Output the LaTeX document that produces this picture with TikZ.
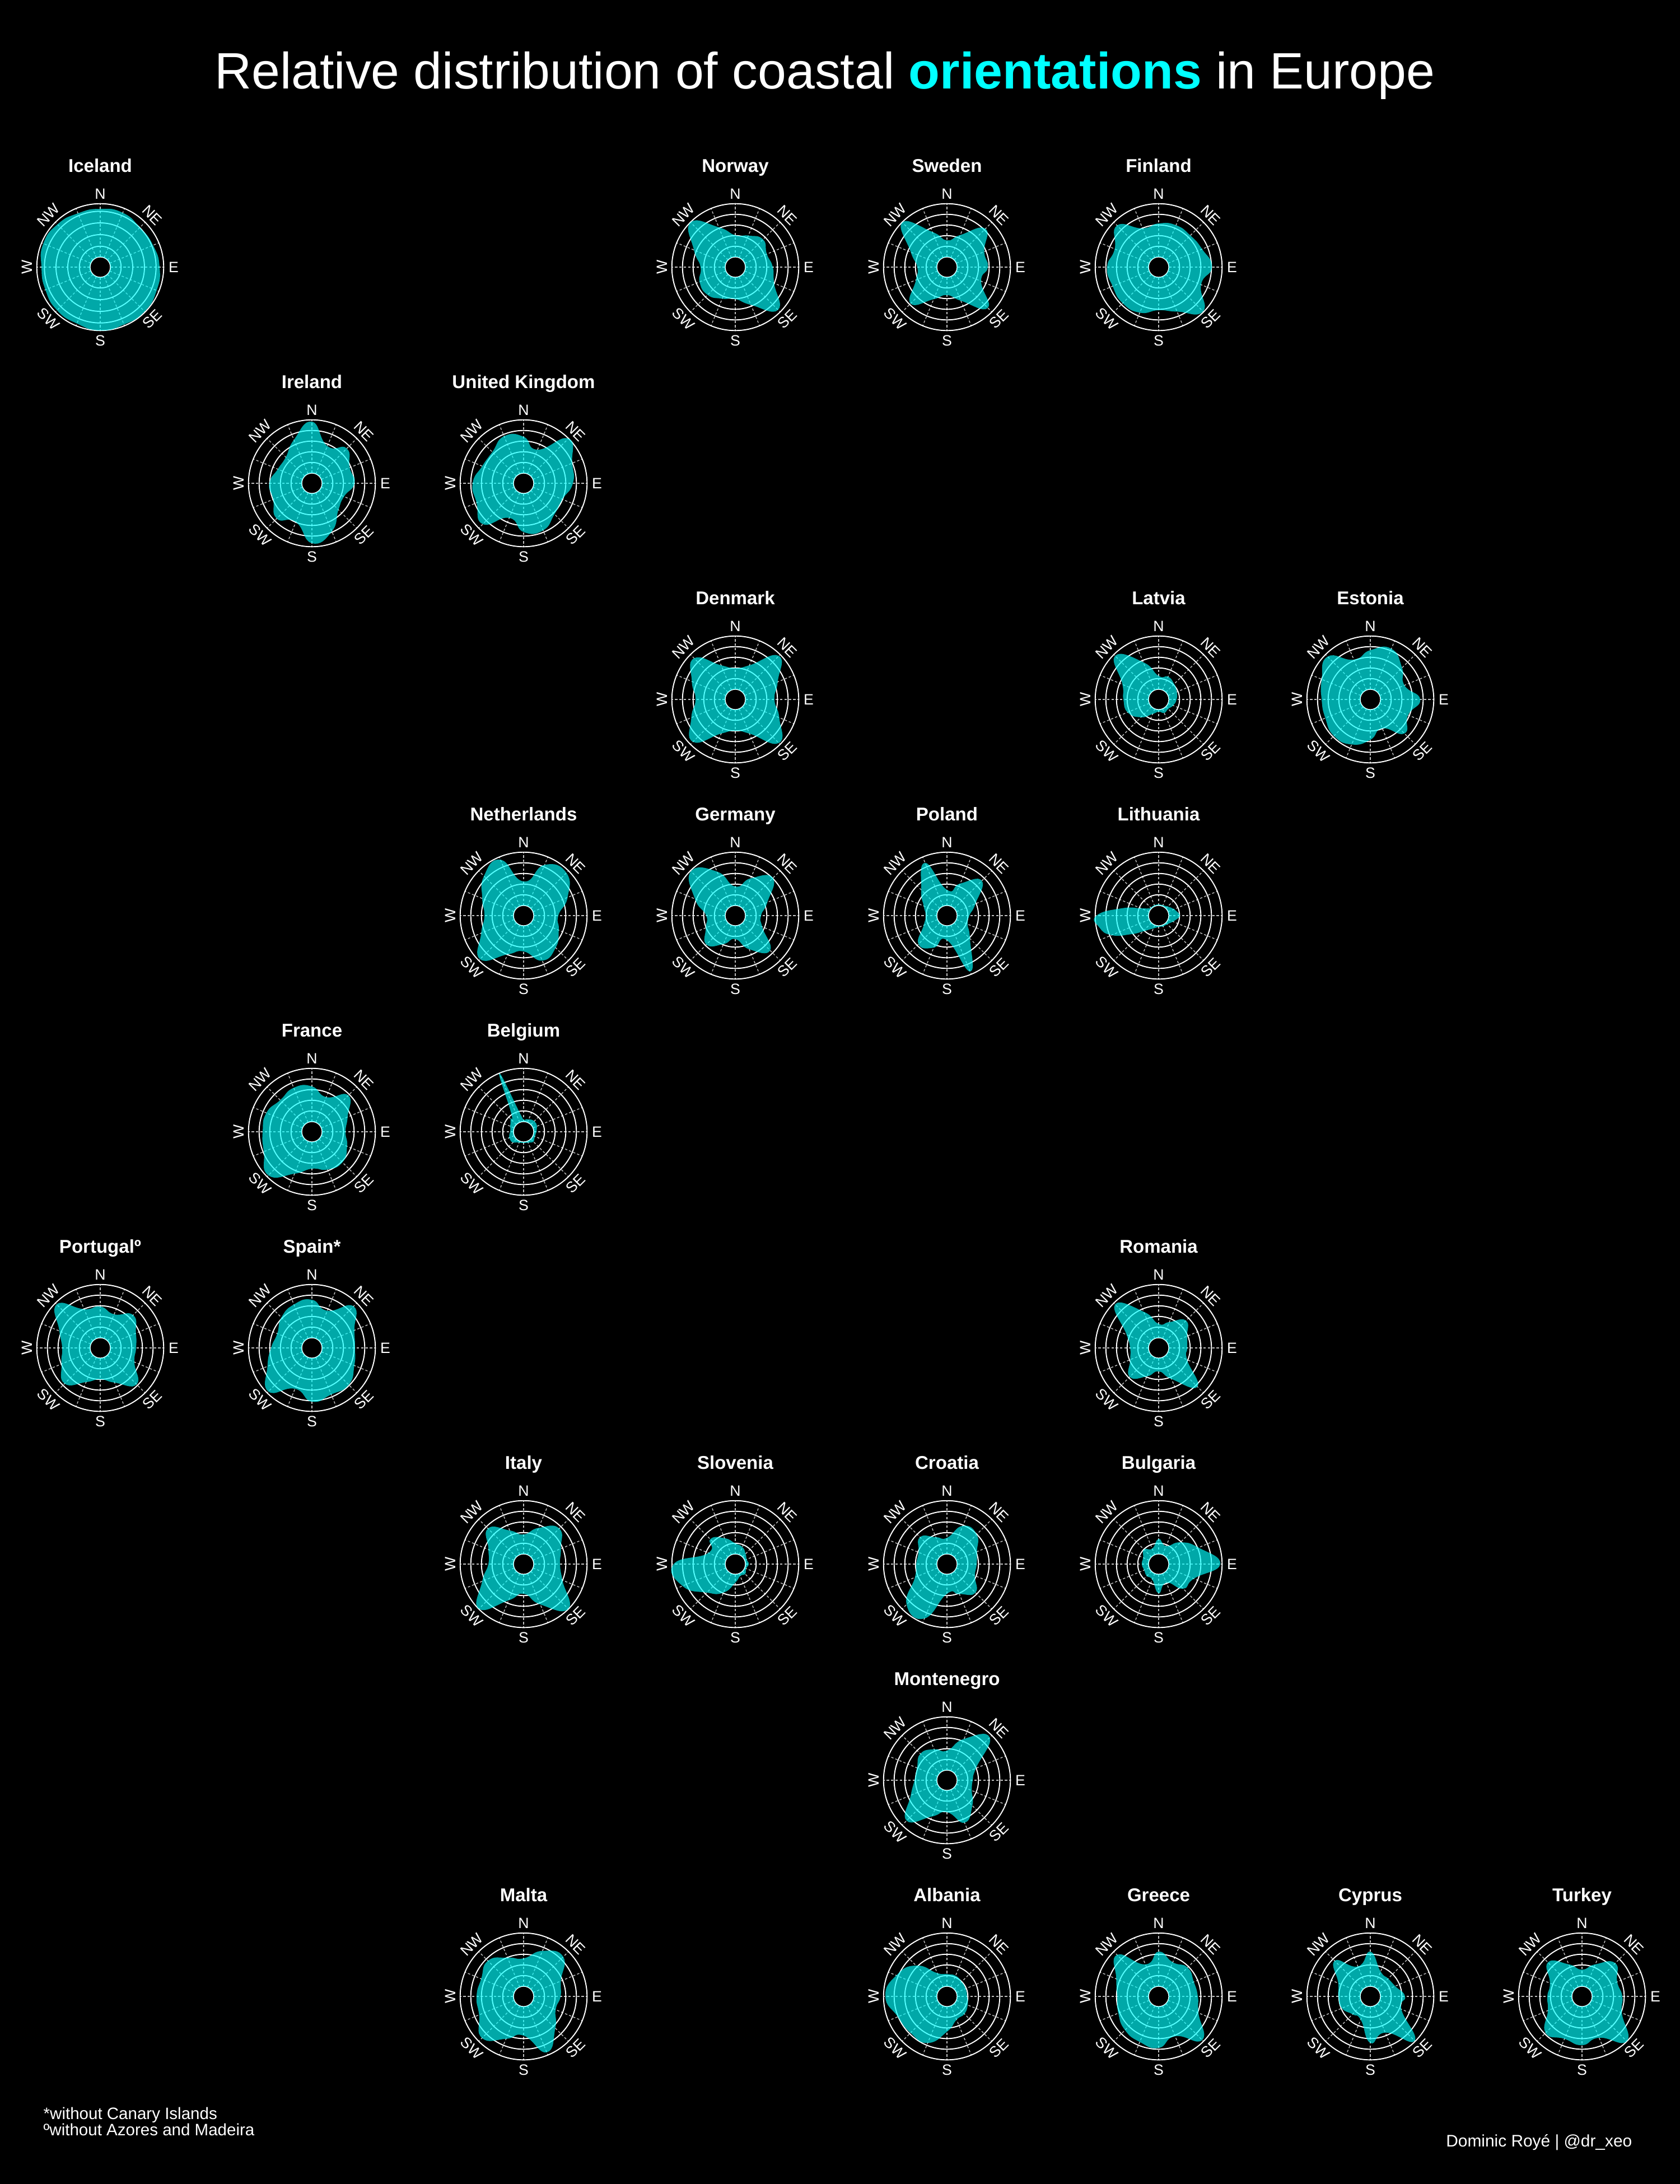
\documentclass[tikz,border=0pt]{standalone}
\usepackage{fontspec}
\setmainfont{Liberation Sans}
\definecolor{aqua}{RGB}{0,255,255}
\tikzset{
  spoke/.style={gray!50!white, line width=0.4pt, dash pattern=on 1.2pt off 1pt},
  ring/.style={white, line width=0.55pt},
  rosefill/.style={fill=aqua, fill opacity=0.66},
  dirlbl/.style={white, inner sep=0, font=\fontsize{7.6}{9}\selectfont},
  ctitle/.style={white, anchor=base, inner sep=0, font=\bfseries\fontsize{9.4}{11}\selectfont},
  note/.style={white, anchor=base west, inner sep=0, font=\fontsize{8.4}{10}\selectfont}
}
\newcommand\rhole{0.183}
\newcommand\router{1.133}
% #1 rings, #2 id, #3 column, #4 row, #5 title, #6 radii from N clockwise (evenly spaced)
\newcommand\rose[6][0.373,0.563,0.753,0.943]{%
\begin{scope}[shift={({1.79+3.78*#3},{-4.77-3.86*#4})}]
  \foreach \ang in {0,22.5,...,337.5} \draw[spoke] (\ang:\rhole) -- (\ang:\router);
  \foreach \rr in {#1} \draw[ring] (0,0) circle (\rr);
  \draw[ring] (0,0) circle (\rhole) (0,0) circle (\router);
  \foreach \rr [count=\nn] in {#6} {\xdef\npts{\nn}}
  \gdef\ptlist{}
  \foreach \rr [count=\kk from 0] in {#6} {
    \coordinate (#2-\kk) at ({90-360/\npts*\kk}:\rr);
    \xdef\ptlist{\ptlist (#2-\kk)}}
  \edef\rosepath{\noexpand\fill[rosefill, even odd rule] plot[smooth cycle, tension=0.9]
    coordinates {\ptlist} (0,0) circle (\rhole);}
  \rosepath
  \foreach \ang/\txt/\rot in {90/N/0,45/NE/-45,0/E/0,-45/SE/45,-90/S/0,-135/SW/-45,180/W/90,135/NW/45}
    \node[dirlbl, rotate=\rot] (#2-\txt) at (\ang:1.31) {\txt};
  \node[ctitle] (#2-title) at (0,1.70) {#5};
\end{scope}}

\begin{document}
\begin{tikzpicture}
\fill[black] (0,0) rectangle (30,-39);
\node[white, anchor=base, inner sep=0, font=\fontsize{26}{30}\selectfont] (title) at (14.73,-1.59)
  {Relative distribution of coastal \textcolor{aqua}{\bfseries orientations} in Europe};

% row 0
\rose[0.373,0.58,0.79,0.997]{ice}{0}{0}{Iceland}{1.04,1.05,1.00,1.02,1.06,1.09,1.12,1.11,1.13,1.09,1.09,1.06,1.05,1.10,1.08,1.04}
\rose{nor}{3}{0}{Norway}{.57,.61,.70,.61,.67,.75,1.08,.73,.57,.61,.70,.69,.62,.80,1.13,.77}
\rose{swe}{4}{0}{Sweden}{.48,.62,.97,.72,.73,.66,1.03,.65,.50,.62,.92,.60,.53,.70,1.13,.68}
\rose{fin}{5}{0}{Finland}{.78,.81,.80,.84,.95,.82,1.12,.86,.77,.88,.91,.89,.92,.85,1.05,.75}
% row 1
\rose{irl}{1}{1}{Ireland}{1.10,.72,.88,.73,.76,.62,.67,.93,1.07,.75,.89,.75,.76,.66,.66,.84}
\rose{gbr}{2}{1}{United Kingdom}{.83,.65,1.13,.94,.88,.75,.78,.91,.87,.67,1.03,.91,.91,.80,.79,.91}
% row 2
\rose{dnk}{3}{2}{Denmark}{.56,.66,1.10,.82,.70,.85,1.10,.66,.56,.66,1.07,.85,.71,.84,1.04,.66}
\rose{lva}{5}{2}{Latvia}{.42,.44,.39,.35,.32,.28,.24,.26,.22,.28,.45,.60,.63,.70,1.10,.72}
\rose{est}{6}{2}{Estonia}{.88,.98,.80,.66,.89,.73,.86,.56,.72,.87,.92,.87,.87,.94,1.08,.77}
% row 3
\rose{nld}{2}{3}{Netherlands}{.61,.98,1.08,.85,.62,.68,.81,.87,.64,.75,1.10,.82,.70,.80,1.00,1.08}
\rose{deu}{3}{3}{Germany}{.52,.72,.95,.62,.46,.52,.88,.65,.42,.55,.73,.57,.52,.78,1.12,.85}
\rose{pol}{4}{3}{Poland}{.46,.62,.88,.55,.40,.40,.58,1.08,.44,.62,.72,.45,.38,.45,.65,1.02}
\rose{ltu}{5}{3}{Lithuania}{.2,.2,.2,.21,.23,.26,.3,.34,.38,.33,.28,.24,.22,.21,.21,.2,.2,.22,.25,.3,.4,.6,.91,1.08,1.11,.67,.34,.23,.2,.2,.2,.2}
% row 4
\rose{fra}{1}{4}{France}{.81,.67,.92,.69,.60,.68,.77,.73,.66,.81,1.10,.93,.88,.88,.80,.85}
\rose{bel}{2}{4}{Belgium}{.22,.23,.24,.26,.27,.27,.26,.24,.23,.22,.22,.23,.25,.23,.21,.2,.2,.2,.21,.23,.27,.28,.28,.26,.24,.24,.26,.28,.33,.4,1.13,.34}
% row 5
\rose{prt}{0}{5}{Portugalº}{.74,.65,.83,.69,.64,.66,.92,.67,.56,.66,.90,.75,.68,.79,1.10,.75}
\rose{esp}{1}{5}{Spain*}{.86,.72,1.05,.82,.77,.82,.93,.90,.96,.79,1.10,.86,.73,.67,.77,.84}
\rose{rou}{5}{5}{Romania}{.43,.50,.69,.55,.51,.55,.98,.60,.42,.55,.73,.55,.51,.62,1.10,.70}
% row 6
\rose{ita}{2}{6}{Italy}{.53,.70,.90,.72,.65,.75,1.13,.78,.53,.70,1.13,.80,.63,.68,.90,.65}
\rose{svn}{3}{6}{Slovenia}{.37,.33,.26,.22,.24,.21,.25,.23,.33,.55,.72,1.02,1.10,.52,.63,.50}
\rose{hrv}{4}{6}{Croatia}{.47,.74,.75,.58,.53,.54,.72,.58,.53,1.05,1.02,.62,.55,.55,.68,.52}
\rose{bgr}{5}{6}{Bulgaria}{.45,.35,.55,.77,1.10,.68,.62,.36,.52,.30,.30,.28,.30,.30,.37,.30}
% row 7
\rose{mne}{4}{7}{Montenegro}{.53,.80,1.08,.56,.46,.48,.64,.82,.57,.70,1.02,.70,.58,.58,.67,.60}
% row 8
\rose{mlt}{2}{8}{Malta}{.68,.88,1.00,.72,.66,.62,.80,1.08,.70,.82,1.05,.86,.84,.82,.90,.75}
\rose{alb}{4}{8}{Albania}{.40,.40,.37,.36,.36,.40,.44,.45,.63,.90,.92,.95,1.10,.98,.78,.45}
\rose{grc}{5}{8}{Greece}{.80,.66,.73,.68,.70,.77,1.10,.77,.92,.88,.85,.78,.74,.82,1.05,.62}
\rose{cyp}{6}{8}{Cyprus}{.80,.48,.45,.48,.62,.60,1.12,.70,.83,.45,.45,.55,.57,.62,.90,.58}
\rose{tur}{7}{8}{Turkey}{.48,.62,.84,.68,.72,.77,1.13,.80,.87,.82,.92,.66,.62,.62,.86,.62}

\node[note] (note1) at (0.77,-37.84) {*without Canary Islands};
\node[note] (note2) at (0.77,-38.13) {ºwithout Azores and Madeira};
\node[white, anchor=base east, inner sep=0, font=\fontsize{8.5}{10}\selectfont] (credit) at (29.15,-38.33) {Dominic Royé | @dr\_xeo};
\end{tikzpicture}
\end{document}
